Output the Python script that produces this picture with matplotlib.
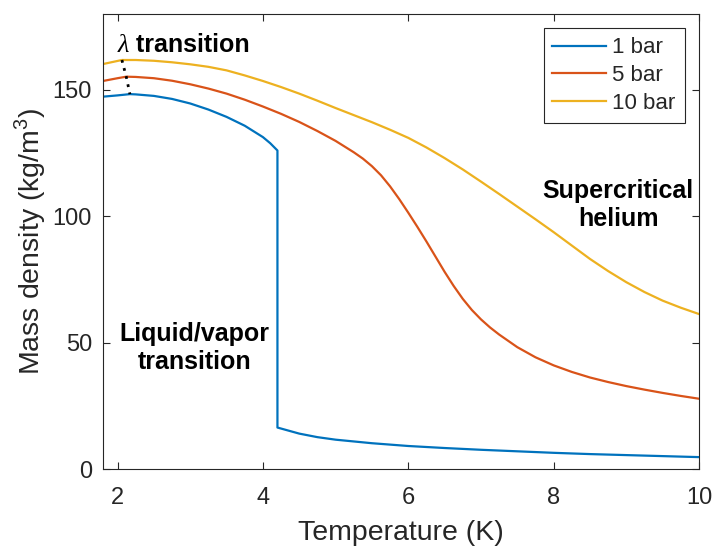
import numpy as np
import matplotlib
matplotlib.use("Agg")
import matplotlib.pyplot as plt

plt.rcParams["font.family"] = ["Liberation Sans", "DejaVu Sans"]
plt.rcParams["mathtext.fontset"] = "custom"
plt.rcParams["mathtext.rm"] = "Liberation Sans"

# 1 bar: liquid up to 4.2 K, then vapor
t_1bar = [1.8, 2.0, 2.17, 2.25, 2.5, 2.75, 3.0, 3.25, 3.5, 3.75, 4.0, 4.1, 4.2,
          4.2, 4.5, 4.75, 5.0, 5.5, 6.0, 6.5, 7.0, 7.5, 8.0, 8.5, 9.0, 9.5, 10.0]
rho_1bar = [147.3, 147.8, 148.3, 148.2, 147.6, 146.4, 144.6, 142.2, 139.3, 135.8, 131.3, 128.9, 126.0,
            16.4, 14.0, 12.6, 11.6, 10.2, 9.1, 8.3, 7.6, 7.0, 6.4, 5.9, 5.5, 5.1, 4.7]

# 5 bar
t_5bar = [1.8, 2.0, 2.12, 2.25, 2.5, 2.75, 3.0, 3.25, 3.5, 3.75, 4.0, 4.25, 4.5, 4.75,
          5.0, 5.25, 5.375, 5.5, 5.625, 5.75, 5.875, 6.0, 6.125, 6.25, 6.375, 6.5, 6.625, 6.75,
          6.875, 7.0, 7.125, 7.25, 7.5, 7.75, 8.0, 8.25, 8.5, 8.75, 9.0, 9.25, 9.5, 9.75, 10.0]
rho_5bar = [153.5, 154.6, 155.2, 155.1, 154.6, 153.6, 152.2, 150.5, 148.5, 146.1, 143.4, 140.5, 137.3, 133.7,
            129.8, 125.3, 122.8, 119.8, 116.2, 111.8, 106.8, 101.4, 95.8, 90.0, 84.0, 78.0, 72.4, 67.3,
            62.9, 59.2, 56.0, 53.2, 48.2, 44.2, 41.0, 38.4, 36.2, 34.4, 32.8, 31.4, 30.1, 28.9, 27.8]

# 10 bar
t_10bar = [1.8, 2.06, 2.25, 2.5, 2.75, 3.0, 3.25, 3.5, 3.75, 4.0, 4.25, 4.5, 4.75,
           5.0, 5.25, 5.5, 5.75, 6.0, 6.25, 6.5, 6.75, 7.0, 7.25, 7.5, 7.75, 8.0, 8.25,
           8.5, 8.75, 9.0, 9.25, 9.5, 9.75, 10.0]
rho_10bar = [160.2, 161.8, 161.8, 161.5, 160.9, 160.1, 159.1, 157.7, 155.7, 153.5, 151.1, 148.5, 145.7,
             142.8, 140.0, 137.2, 134.2, 131.0, 127.2, 123.0, 118.5, 113.7, 108.8, 103.8, 98.8, 93.7, 88.4,
             83.1, 78.3, 73.9, 70.0, 66.6, 63.8, 61.3]

# lambda line through the density maxima
t_lambda = [2.06, 2.12, 2.17]
rho_lambda = [161.8, 155.2, 148.3]

labels = ["1 bar", "5 bar", "10 bar"]
colors = ["#0072BD", "#D95319", "#EDB120"]
axis_gray = "#262626"

fig = plt.figure(figsize=(7.16, 5.46), dpi=100)
ax = fig.add_axes([103 / 716, 1 - 469 / 546, 596 / 716, 455 / 546])

for t, rho, lab, c in zip([t_1bar, t_5bar, t_10bar], [rho_1bar, rho_5bar, rho_10bar], labels, colors):
    ax.plot(t, rho, color=c, lw=1.6, label=lab)
ax.plot(t_lambda, rho_lambda, color="black", lw=2, linestyle=(0, (1, 2)))

ax.set_xlim(1.8, 10)
ax.set_ylim(0, 180)
ax.set_xticks([2, 4, 6, 8, 10])
ax.set_yticks([0, 50, 100, 150])
ax.tick_params(direction="in", top=True, right=True, length=5, width=0.8,
               labelsize=17, colors=axis_gray)
ax.tick_params(axis="x", pad=13)
ax.tick_params(axis="y", pad=8)
for s in ax.spines.values():
    s.set_color(axis_gray)
    s.set_linewidth(0.8)

ax.set_xlabel("Temperature (K)", fontsize=20.5, color=axis_gray, labelpad=8)
ax.set_ylabel(r"Mass density (kg/m$^3$)", fontsize=20.5, color=axis_gray, labelpad=3)

leg = ax.legend(loc="upper right", fontsize=16, handlelength=2.4, borderaxespad=0.65,
                fancybox=False, framealpha=1, edgecolor=axis_gray, labelspacing=0.3,
                borderpad=0.4, handletextpad=0.3)
leg.get_frame().set_linewidth(0.8)
for txt in leg.get_texts():
    txt.set_color(axis_gray)

lam = ax.text(2.0, 167.5, "λ", fontsize=19, family="Liberation Serif", style="italic",
              ha="left", va="center")
ax.annotate(" transition", xy=(1, 0), xycoords=lam, ha="left", va="bottom",
            fontsize=18, fontweight="bold")
ax.text(3.06, 48, "Liquid/vapor\ntransition", fontsize=18, fontweight="bold",
        ha="center", va="center", linespacing=1.2)
ax.text(8.89, 104.5, "Supercritical\nhelium", fontsize=18, fontweight="bold",
        ha="center", va="center", linespacing=1.2)

fig.savefig("out.png", dpi=100)
